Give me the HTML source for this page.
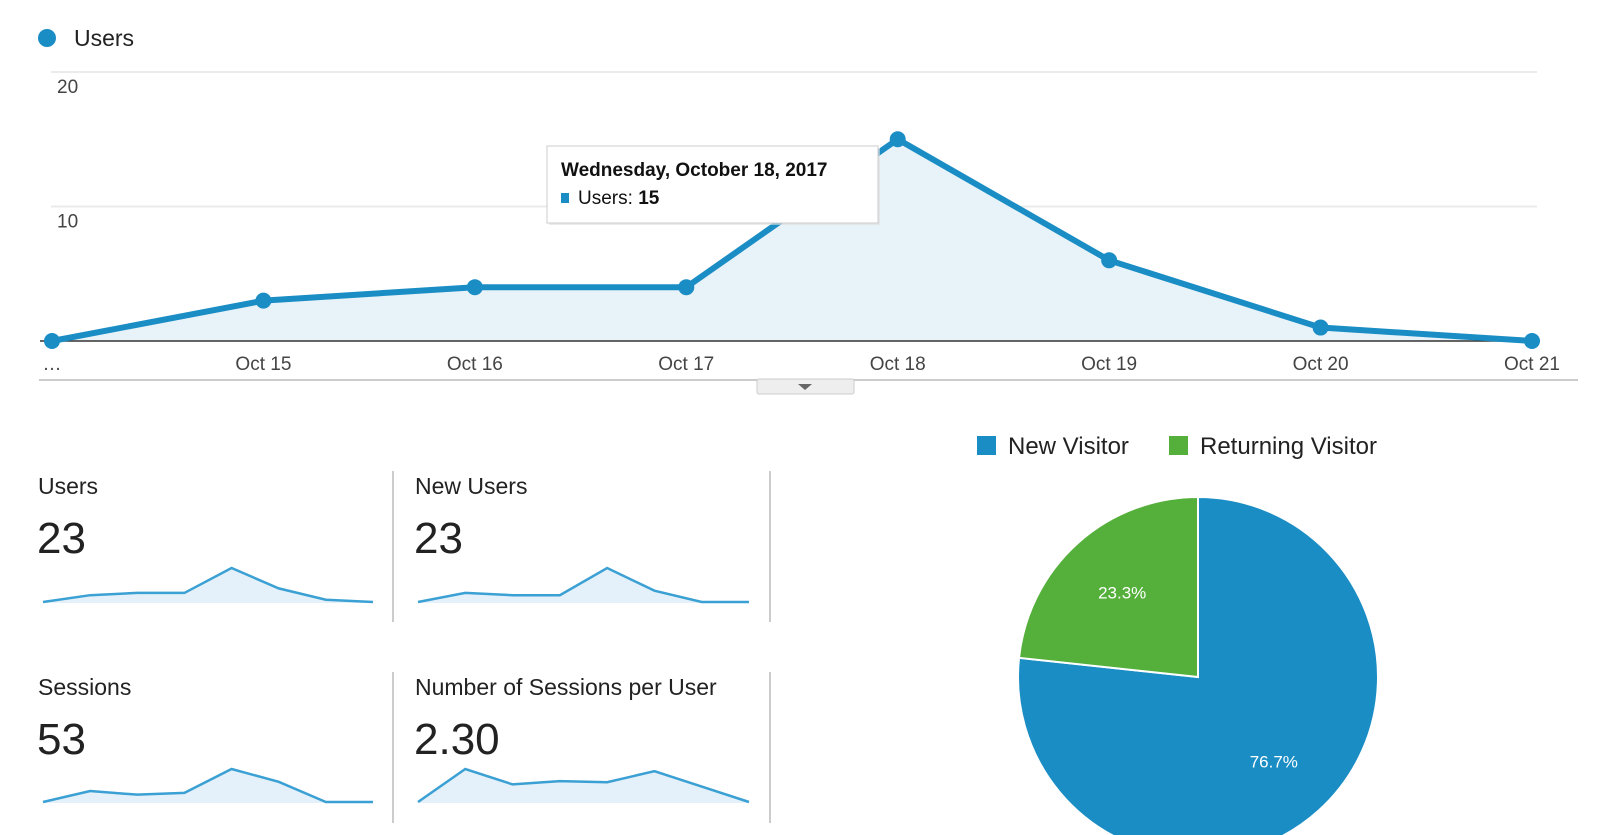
<!DOCTYPE html>
<html><head><meta charset="utf-8"><style>
html,body{margin:0;padding:0;background:#fff;width:1600px;height:835px;overflow:hidden;font-family:"Liberation Sans",Arial,sans-serif;color:#222}
svg{position:absolute;left:0;top:0}
</style></head><body>
<svg id="main" width="1600" height="835" xmlns="http://www.w3.org/2000/svg"></svg>
<script>
const categories=["…","Oct 15","Oct 16","Oct 17","Oct 18","Oct 19","Oct 20","Oct 21"];
const users=[0,3,4,4,15,6,1,0];
const yTicks=[10,20];
const sparkTitles=["Users","New Users","Sessions","Number of Sessions per User"];
const sparkValues=["23","23","53","2.30"];
const sparkUsers=[0,3,4,4,15,6,1,0];
const sparkNewUsers=[0,4,3,3,15,5,0,0];
const sparkSessions=[0,6,4,5,18,11,0,0];
const sparkPerUser=[0,3,1.6,1.9,1.8,2.8,1.4,0];
const pieLabels=["New Visitor","Returning Visitor"];
const pieValues=[76.7,23.3];
const pieColors=["#1a8dc5","#55b03b"];

const NS="http://www.w3.org/2000/svg";
const svg=document.getElementById('main');
function mk(tag,attrs,parent){const e=document.createElementNS(NS,tag);for(const k in attrs)e.setAttribute(k,attrs[k]);(parent||svg).appendChild(e);return e;}
const BLUE="#1a8dc5";
// axes
const x0=52,x1=1532,yBase=341,yTop=72;
const xS=i=>x0+i*(x1-x0)/(categories.length-1);
const yS=v=>yBase-v*(yBase-yTop)/20;

// legend
let e=mk('circle',{cx:47,cy:38,r:9,fill:BLUE});


e=mk('text',{x:74,y:46,'font-size':23,fill:'#222'});e.textContent="Users";



// gridlines
yTicks.forEach(t=>{
  let g=mk('line',{x1:51,x2:1537,y1:yS(t),y2:yS(t),stroke:'#ebebeb','stroke-width':2});
  
  
  let l=mk('text',{x:57,y:yS(t)+21,'font-size':19,fill:'#444'});l.textContent=t;
  
  
});
// area + line
let pts=users.map((v,i)=>xS(i)+','+yS(v)).join(' ');
e=mk('polygon',{points:xS(0)+','+yBase+' '+pts+' '+xS(users.length-1)+','+yBase,fill:'#e8f2f9'});


e=mk('line',{x1:40,x2:1537,y1:yBase,y2:yBase,stroke:'#333','stroke-width':1.5});


e=mk('polyline',{points:pts,fill:'none',stroke:BLUE,'stroke-width':6,'stroke-linejoin':'round'});


users.forEach((v,i)=>{
  let c=mk('circle',{cx:xS(i),cy:yS(v),r:8,fill:BLUE});
  
  
  let t=mk('text',{x:xS(i),y:370,'font-size':19,fill:'#444','text-anchor':'middle'});t.textContent=categories[i];
  
  
});
// bottom line + button
e=mk('line',{x1:39,x2:1578,y1:380,y2:380,stroke:'#ccc','stroke-width':2});


e=mk('rect',{x:757,y:379,width:97,height:15,rx:2,fill:'#eee',stroke:'#ccc'});


e=mk('polygon',{points:'798,384 812,384 805,390',fill:'#666'});



// tooltip
const pk=users.indexOf(Math.max(...users));
let tg=mk('g',{});


mk('rect',{x:549,y:148,width:331,height:77,fill:'#ddd',opacity:0.6},tg);
mk('rect',{x:547,y:146,width:331,height:77,fill:'#fff',stroke:'#ccc'},tg);
e=mk('text',{x:561,y:176,'font-size':19,'font-weight':'bold',fill:'#111'},tg);e.textContent="Wednesday, October 18, 2017";
mk('rect',{x:561,y:193,width:8,height:10,fill:BLUE},tg);
e=mk('text',{x:578,y:204,'font-size':19,fill:'#111'},tg);e.innerHTML='Users: <tspan font-weight="bold">'+users[pk]+'</tspan>';

// sparklines
const sparkData=[sparkUsers,sparkNewUsers,sparkSessions,sparkPerUser];
const cols=[{x:38,sx0:43,sx1:373},{x:415,sx0:418,sx1:749}];
const rows=[{ly:494,vy:553,base:602,peak:568,d0:471,d1:622},{ly:695,vy:754,base:802,peak:769,d0:672,d1:823}];
sparkData.forEach((arr,k)=>{
  const c=cols[k%2],r=rows[Math.floor(k/2)];
  let g=mk('g',{});
  
  
  let t=mk('text',{x:c.x,y:r.ly,'font-size':23,fill:'#222'},g);t.textContent=sparkTitles[k];
  t=mk('text',{x:c.x-1,y:r.vy,'font-size':44,fill:'#222'},g);t.textContent=sparkValues[k];
  const mx=Math.max(...arr);
  const sx=i=>c.sx0+i*(c.sx1-c.sx0)/(arr.length-1);
  const sy=v=>r.base-v/mx*(r.base-r.peak);
  const p=arr.map((v,i)=>sx(i)+','+sy(v)).join(' ');
  mk('polygon',{points:sx(0)+','+(r.base+1)+' '+p+' '+sx(arr.length-1)+','+(r.base+1),fill:'#e5f1fa'},g);
  mk('polyline',{points:p,fill:'none',stroke:'#3ba0d3','stroke-width':2.5},g);
  mk('line',{x1:c.x+355,x2:c.x+355,y1:r.d0,y2:r.d1,stroke:'#ccc','stroke-width':2},g);
});

// pie
const cx=1198,cy=677,R=180;
const legX=[977,1169];
pieLabels.forEach((l,i)=>{
  let s=mk('rect',{x:legX[i],y:436,width:19,height:19,fill:pieColors[i]});
  
  
  let t=mk('text',{x:legX[i]+31,y:454,'font-size':24,fill:'#222'});t.textContent=l;
  
  
});
const total=pieValues.reduce((a,b)=>a+b,0);
let ang=0;
pieValues.forEach((v,i)=>{
  const a0=ang,a1=ang+v/total*2*Math.PI;ang=a1;
  const p0=[cx+R*Math.sin(a0),cy-R*Math.cos(a0)],p1=[cx+R*Math.sin(a1),cy-R*Math.cos(a1)];
  const large=(a1-a0)>Math.PI?1:0;
  let s=mk('path',{d:`M${cx},${cy} L${p0[0]},${p0[1]} A${R},${R} 0 ${large} 1 ${p1[0]},${p1[1]} Z`,fill:pieColors[i],stroke:'#fff','stroke-width':2});
  
  
  const am=(a0+a1)/2,lr=R*0.63;
  let t=mk('text',{x:cx+lr*Math.sin(am),y:cy-lr*Math.cos(am)+6,'font-size':17,fill:'#fff','text-anchor':'middle'});
  t.textContent=v.toFixed(1)+'%';
  
  
});
</script>
</body></html>
